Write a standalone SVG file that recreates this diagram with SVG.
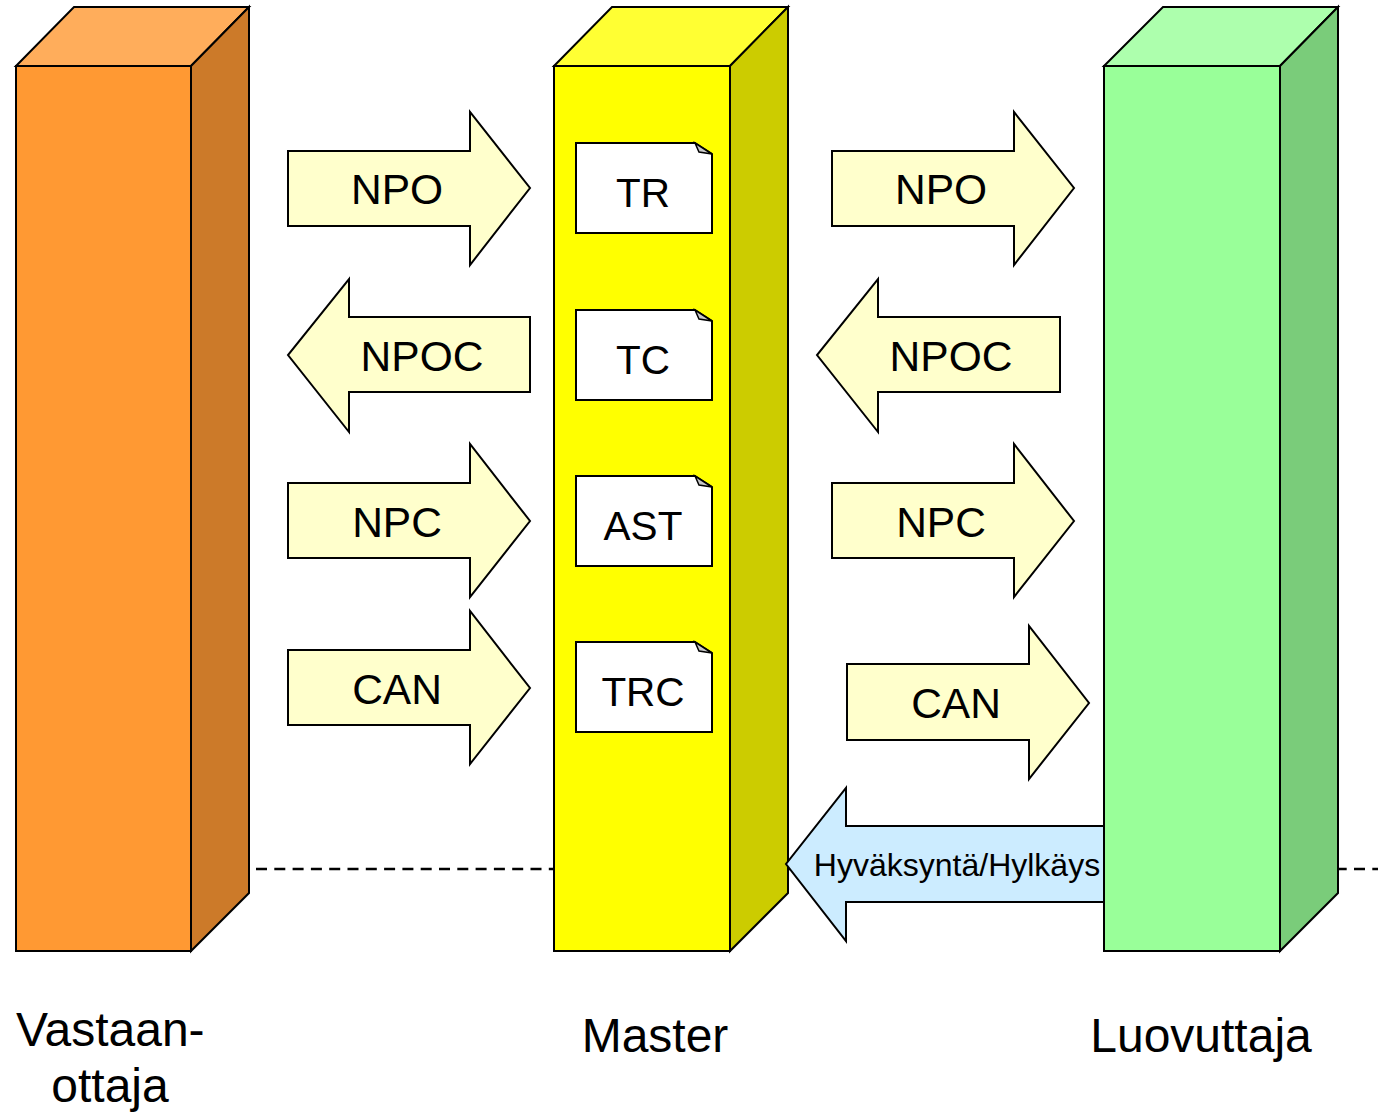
<svg xmlns="http://www.w3.org/2000/svg" width="1393" height="1114" viewBox="0 0 1393 1114">
<style>
  .ln { stroke:#000; stroke-width:2; stroke-linejoin:miter; }
  .arr { fill:#FFFFCC; stroke:#000; stroke-width:2; }
  .doc { fill:#FFFFFF; stroke:#000; stroke-width:2; }
  .fold { fill:#C8C8C8; stroke:#000; stroke-width:1.5; }
  text { font-family:"Liberation Sans", Arial, sans-serif; fill:#000; text-anchor:middle; }
  .t41 { font-size:42.5px; }
  .t38 { font-size:40.5px; }
  .lbl { font-size:48px; }
  .t32 { font-size:32px; }
</style>
<rect width="1393" height="1114" fill="#FFFFFF"/>
<g id="connectors">
  <line x1="256" y1="869" x2="1378" y2="869" stroke="#000" stroke-width="2.5" stroke-dasharray="11 7.3"/>
</g>
<g id="col-vastaanottaja">
  <polygon class="ln" fill="#FFAD5B" points="16,66 74,7 249,7 191,66"/>
  <polygon class="ln" fill="#CC7A29" points="191,66 249,7 249,893 191,951"/>
  <rect class="ln" fill="#FF9933" x="16" y="66" width="175" height="885"/>
</g>
<g id="col-master">
  <polygon class="ln" fill="#FFFF33" points="554,66 612,7 788,7 730,66"/>
  <polygon class="ln" fill="#CCCC00" points="730,66 788,7 788,893 730,951"/>
  <rect class="ln" fill="#FFFF00" x="554" y="66" width="176" height="885"/>
</g>
<g id="col-luovuttaja">
  <polygon class="ln" fill="#ADFFAD" points="1104,66 1163,7 1338,7 1280,66"/>
  <polygon class="ln" fill="#7ACC7A" points="1280,66 1338,7 1338,893 1280,951"/>
  <rect class="ln" fill="#99FF99" x="1104" y="66" width="176" height="885"/>
</g>
<g id="doc-tr">
  <path class="doc" d="M576,143 H695 L712,154 V233 H576 Z"/>
  <path class="fold" d="M695,143 L699,152 L712,154 Z"/>
  <text class="t38" x="643" y="207">TR</text>
</g>
<g id="doc-tc">
  <path class="doc" d="M576,310 H695 L712,321 V400 H576 Z"/>
  <path class="fold" d="M695,310 L699,319 L712,321 Z"/>
  <text class="t38" x="643" y="374">TC</text>
</g>
<g id="doc-ast">
  <path class="doc" d="M576,476 H695 L712,487 V566 H576 Z"/>
  <path class="fold" d="M695,476 L699,485 L712,487 Z"/>
  <text class="t38" x="643" y="540">AST</text>
</g>
<g id="doc-trc">
  <path class="doc" d="M576,642 H695 L712,653 V732 H576 Z"/>
  <path class="fold" d="M695,642 L699,651 L712,653 Z"/>
  <text class="t38" x="643" y="706">TRC</text>
</g>
<g id="arrow-npo-l">
  <polygon class="arr" points="288,151 470,151 470,112 530,188 470,265 470,226 288,226"/>
  <text class="t41" x="397" y="204">NPO</text>
</g>
<g id="arrow-npoc-l">
  <polygon class="arr" points="530,317 349,317 349,279 288,355 349,432 349,392 530,392"/>
  <text class="t41" x="422" y="371">NPOC</text>
</g>
<g id="arrow-npc-l">
  <polygon class="arr" points="288,483 470,483 470,444 530,521 470,597 470,558 288,558"/>
  <text class="t41" x="397" y="537">NPC</text>
</g>
<g id="arrow-can-l">
  <polygon class="arr" points="288,650 470,650 470,611 530,688 470,764 470,725 288,725"/>
  <text class="t41" x="397" y="704">CAN</text>
</g>
<g id="arrow-npo-r">
  <polygon class="arr" points="832,151 1014,151 1014,112 1074,188 1014,265 1014,226 832,226"/>
  <text class="t41" x="941" y="204">NPO</text>
</g>
<g id="arrow-npoc-r">
  <polygon class="arr" points="1060,317 878,317 878,279 817,355 878,432 878,392 1060,392"/>
  <text class="t41" x="951" y="371">NPOC</text>
</g>
<g id="arrow-npc-r">
  <polygon class="arr" points="832,483 1014,483 1014,444 1074,521 1014,597 1014,558 832,558"/>
  <text class="t41" x="941" y="537">NPC</text>
</g>
<g id="arrow-can-r">
  <polygon class="arr" points="847,664 1029,664 1029,626 1089,703 1029,779 1029,740 847,740"/>
  <text class="t41" x="956" y="718">CAN</text>
</g>
<g id="arrow-hyvaksynta">
  <polygon fill="#CCECFF" stroke="#000" stroke-width="2" points="1104,826 846,826 846,788 786,864 846,941 846,902 1104,902"/>
  <text class="t32" x="957" y="876">Hyväksyntä/Hylkäys</text>
</g>
<g id="labels">
  <text class="lbl" x="16" y="1046" style="text-anchor:start">Vastaan-</text>
  <text class="lbl" x="110" y="1102">ottaja</text>
  <text class="lbl" x="655" y="1052">Master</text>
  <text class="lbl" x="1201" y="1052">Luovuttaja</text>
</g>
</svg>
